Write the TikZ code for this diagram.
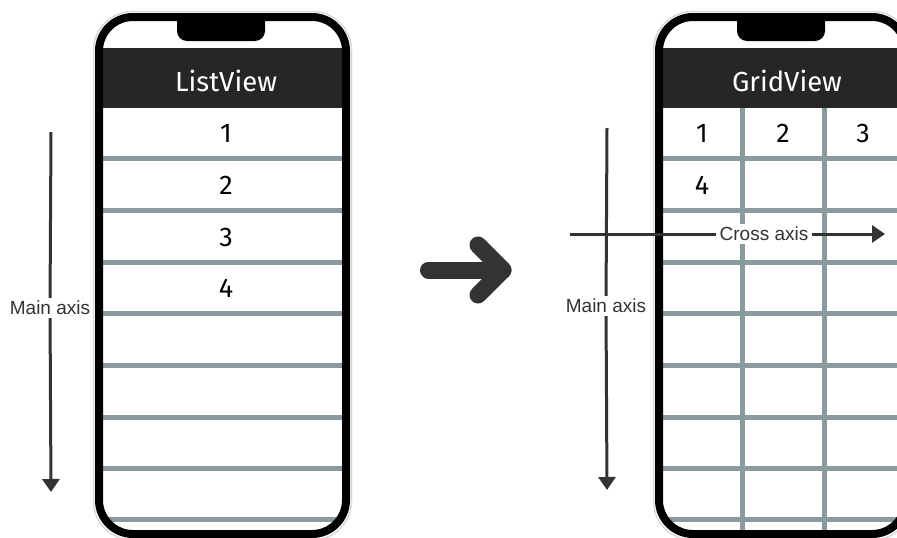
\documentclass[tikz,border=0pt]{standalone}
\usepackage{fontspec}
\setmainfont{Liberation Sans}
\newfontfamily\dinfont{Fira Sans}
\usetikzlibrary{arrows.meta}
\definecolor{sepgray}{RGB}{138,155,160}
\definecolor{hdr}{RGB}{38,38,38}
\definecolor{ink}{RGB}{51,51,51}
\tikzset{
  phoneframe/.style={draw=black, line width=8pt, rounded corners=34pt},
  phonerim/.style={draw=gray!30, line width=1.5pt, rounded corners=39pt},
  sepline/.style={draw=sepgray, line width=5pt},
  hdrtext/.style={text=white, font=\dinfont\fontsize{27.5}{31}\selectfont, inner sep=0pt},
  numtext/.style={text=black, font=\dinfont\fontsize{27}{31}\selectfont, inner sep=0pt},
  axislabel/.style={fill=white, text=ink, font=\fontsize{19}{21}\selectfont, inner sep=3pt},
  axisline/.style={draw=ink, line width=3pt, -{Triangle[length=13pt,width=17pt]}},
  bigarrow/.style={draw=ink, line width=17pt, line cap=round, line join=round},
}
\newcommand\phonebody{%
  \draw[phonerim] (93.5,11.5) rectangle (351.5,540);
  \fill[white, rounded corners=34pt] (99,17) rectangle (346,534);
  \begin{scope}
    \clip[rounded corners=34pt] (99,17) rectangle (346,534);
    \fill[hdr] (99,48) rectangle (346,108);
    \foreach \yy in {158,210,262,313,365,417,468,519}
      \draw[sepline] (99,\yy) -- (346,\yy);
  \end{scope}
}
\newcommand\phonetop{%
  \draw[phoneframe] (99,17) rectangle (346,534);
  \fill[black] (177,17) -- (177,31) arc[start angle=180,end angle=270,radius=10pt]
     -- (255,41) arc[start angle=270,end angle=360,radius=10pt] -- (265,17) -- cycle;
}
\begin{document}
\begin{tikzpicture}[x=1pt,y=-1pt]
\useasboundingbox (0,0) rectangle (897,538);
\clip (0,0) rectangle (897,538);

% left phone
\phonebody
\phonetop
\node[hdrtext] (lvtitle) at (226,80.5) {ListView};
\node[numtext] (l1) at (226,133) {1};
\node[numtext] (l2) at (226,185) {2};
\node[numtext] (l3) at (226,237) {3};
\node[numtext] (l4) at (226,288) {4};

% left main axis
\coordinate (lmtop) at (51,132);
\coordinate (lmbot) at (51,492);
\node[axislabel] (lmlab) at (50,308) {Main axis};
\draw[axisline] (lmtop) -- (lmlab) -- (lmbot);

% big arrow
\draw[bigarrow] (428.5,270) -- (503,270);
\draw[bigarrow] (478,245) -- (503,270) -- (478,295);

% right phone
\begin{scope}[xshift=560pt]
\phonebody
\begin{scope}
  \clip[rounded corners=34pt] (99,17) rectangle (346,534);
  \draw[sepline] (182,108) -- (182,540);
  \draw[sepline] (264,108) -- (264,540);
\end{scope}
\phonetop
\end{scope}
\node[hdrtext] (gvtitle) at (787,80.5) {GridView};
\node[numtext] (g1) at (702,133) {1};
\node[numtext] (g2) at (783,133) {2};
\node[numtext] (g3) at (863,133) {3};
\node[numtext] (g4) at (702,185) {4};

% right main axis
\coordinate (rmtop) at (607,128);
\coordinate (rmbot) at (607,490);
\node[axislabel] (rmlab) at (606,306) {Main axis};
\draw[axisline] (rmtop) -- (rmlab) -- (rmbot);

% cross axis
\coordinate (cxstart) at (570,234);
\coordinate (cxend) at (885,234);
\node[axislabel] (cxlab) at (764,234) {Cross axis};
\draw[axisline] (cxstart) -- (cxlab) -- (cxend);
\end{tikzpicture}
\end{document}
